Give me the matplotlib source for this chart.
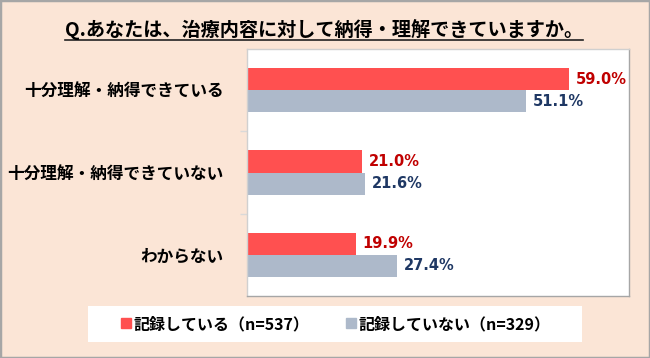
import numpy as np
import matplotlib
matplotlib.use('Agg')
import matplotlib.pyplot as plt
from matplotlib.patches import Rectangle
from matplotlib.lines import Line2D

plt.rcParams['font.family'] = ['Noto Sans CJK JP', 'DejaVu Sans']

# ---------------------------------------------------------------- data
title = 'Q.あなたは、治療内容に対して納得・理解できていますか。'
categories = ['十分理解・納得できている', '十分理解・納得できていない', 'わからない']
recorded = [59.0, 21.0, 19.9]          # 記録している
not_recorded = [51.1, 21.6, 27.4]      # 記録していない
series_names = ['記録している（n=537）', '記録していない（n=329）']

# ---------------------------------------------------------------- style
bg = '#FBE5D6'
red = '#FF5050'
gray = '#ADB9CA'
red_txt = '#C00000'
navy_txt = '#1F3864'
W, H = 650, 358

fig = plt.figure(figsize=(6.5, 3.58), dpi=100, facecolor=bg)
ax = fig.add_axes([247/W, 1 - 296/H, (629 - 247)/W, (296 - 49)/H])
ax.set_facecolor('white')

y = np.arange(len(categories))
h = 0.268
ax.barh(y - h/2, recorded, height=h, color=red)
ax.barh(y + h/2, not_recorded, height=h, color=gray)

# value labels
for yy, v in zip(y - h/2, recorded):
    ax.annotate(f'{v:.1f}%', xy=(v, yy), xytext=(5, 0), textcoords='offset points',
                ha='left', va='center', fontsize=10.5, fontweight='bold',
                color=red_txt, family='DejaVu Sans')
for yy, v in zip(y + h/2, not_recorded):
    ax.annotate(f'{v:.1f}%', xy=(v, yy), xytext=(5, 0), textcoords='offset points',
                ha='left', va='center', fontsize=10.5, fontweight='bold',
                color=navy_txt, family='DejaVu Sans')

ax.set_xlim(0, 70)
ax.set_ylim(2.5, -0.5)
ax.set_xticks([])
ax.set_yticks(y)
ax.set_yticklabels(categories, fontsize=12, fontweight='bold')
ax.tick_params(axis='y', which='major', length=0, pad=17)
ax.set_yticks([0.5, 1.5], minor=True)
ax.tick_params(axis='y', which='minor', length=5, color='#D9D9D9', width=1)

for s in ax.spines.values():
    s.set_color('#D0D0D0')
    s.set_linewidth(1)
ax.spines['right'].set_color('#A6A6A6')
ax.spines['bottom'].set_color('#A6A6A6')

# title with underline
t = fig.text(324/W, 1 - 30/H, title, ha='center', va='center',
             fontsize=13.8, fontweight='bold', color='black')
fig.canvas.draw()
bb = t.get_window_extent()
fig.add_artist(Line2D([bb.x0/W, bb.x1/W], [1 - 40/H, 1 - 40/H],
                      transform=fig.transFigure, color='#222222', lw=1.2))

# legend on a white box
fig.add_artist(Rectangle((88/W, 1 - 342/H), 494/W, 36/H, transform=fig.transFigure,
                         facecolor='white', edgecolor='none'))
handles = [Line2D([], [], marker='s', ls='', color=red, markersize=7),
           Line2D([], [], marker='s', ls='', color=gray, markersize=7)]
fig.legend(handles, series_names, loc='center', bbox_to_anchor=(335/W, 1 - 324/H),
           ncol=2, frameon=False, prop={'weight': 'bold', 'size': 11.5},
           handletextpad=0.1, columnspacing=2.2, handlelength=0.8)

# outer border
fig.add_artist(Rectangle((0, 0), 1, 1, transform=fig.transFigure, fill=False,
                         edgecolor='#A6A6A6', lw=2.5))

fig.savefig('out.png', dpi=100, facecolor=bg)
